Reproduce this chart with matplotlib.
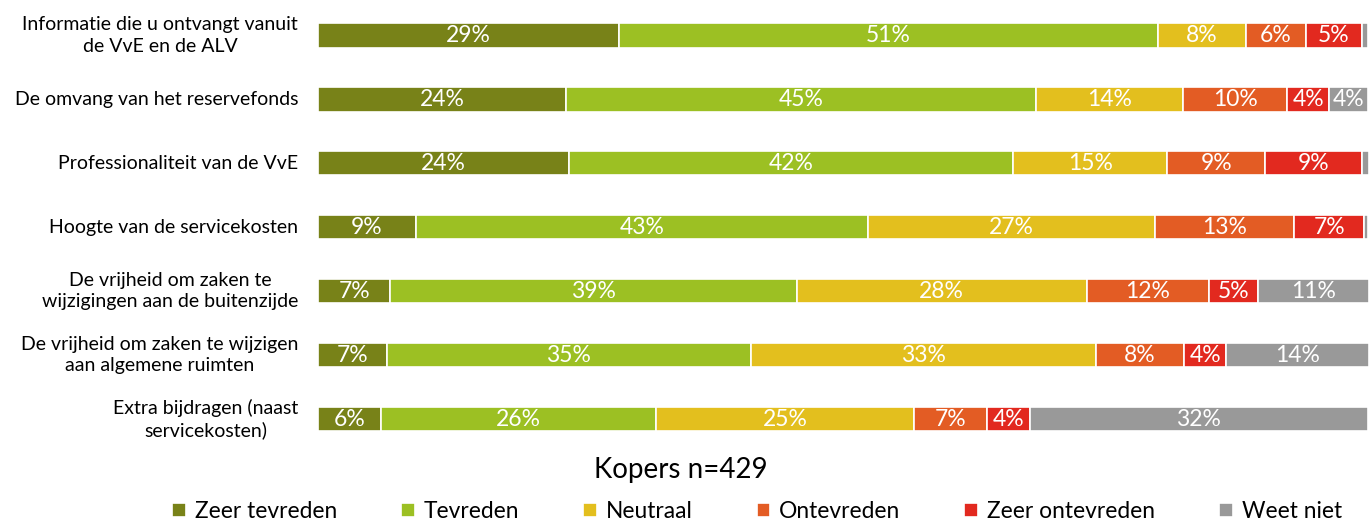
import numpy as np
import matplotlib
matplotlib.use("Agg")
import matplotlib.pyplot as plt

plt.rcParams['font.family'] = ['Lato', 'DejaVu Sans']

# survey items (top to bottom)
categories = [
    "Informatie die u ontvangt vanuit\nde VvE en de ALV",
    "De omvang van het reservefonds",
    "Professionaliteit van de VvE",
    "Hoogte van de servicekosten",
    "De vrijheid om zaken te\nwijzigingen aan de buitenzijde",
    "De vrijheid om zaken te wijzigen\naan algemene ruimten",
    "Extra bijdragen (naast\nservicekosten)",
]

# shares in percent
zeer_tevreden   = [28.7, 23.6, 23.9, 9.3, 6.9, 6.6, 6.0]
tevreden        = [51.3, 44.8, 42.3, 43.1, 38.7, 34.6, 26.2]
neutraal        = [8.4, 14.0, 14.7, 27.3, 27.6, 32.9, 24.6]
ontevreden      = [5.7, 9.9, 9.3, 13.3, 11.7, 8.4, 6.9]
zeer_ontevreden = [5.3, 4.0, 9.2, 6.6, 4.6, 4.0, 4.1]
weet_niet       = [0.6, 3.7, 0.7, 0.4, 10.6, 13.6, 32.2]

series_names = ["Zeer tevreden", "Tevreden", "Neutraal", "Ontevreden",
                "Zeer ontevreden", "Weet niet"]
series = [zeer_tevreden, tevreden, neutraal, ontevreden, zeer_ontevreden, weet_niet]
colors = ["#788218", "#9cc023", "#e3bf1e", "#e35c24", "#e2291f", "#999999"]

title = "Kopers n=429"

fig = plt.figure(figsize=(13.69, 5.23), dpi=100)
ax = fig.add_axes([0.2323, 0.1377, 0.7677, 0.8556])

y = np.arange(len(categories))
left = np.zeros(len(categories))
for name, vals, col in zip(series_names, series, colors):
    vals = np.array(vals)
    ax.barh(y, vals, left=left, height=0.38, color=col,
            edgecolor="white", linewidth=1.2, label=name)
    for yi, l, v in zip(y, left, vals):
        if v >= 2.5:
            ax.text(l + v / 2, yi, f"{round(v)}%", ha="center", va="center",
                    color="white", fontsize=16.5)
    left += vals

ax.set_xlim(0, left.max())
ax.set_ylim(len(categories) - 0.5, -0.5)
ax.set_yticks([])
ax.set_xticks([])
for s in ax.spines.values():
    s.set_visible(False)

# category labels, centred lines, right edge just left of the bars
for yi, cat in zip(y, categories):
    ax.text(-0.019, yi, cat, transform=ax.get_yaxis_transform(),
            ha="right", va="center", multialignment="center",
            fontsize=14, linespacing=1.3)

fig.text(0.497, 0.101, title, ha="center", va="center", fontsize=20)

ax.legend(loc="center", bbox_to_anchor=(0.553, 0.022), bbox_transform=fig.transFigure,
          ncol=6, frameon=False, fontsize=16.4, handlelength=0.6, handleheight=0.6,
          handletextpad=0.4, columnspacing=2.8)

fig.savefig("out.png", dpi=100)
